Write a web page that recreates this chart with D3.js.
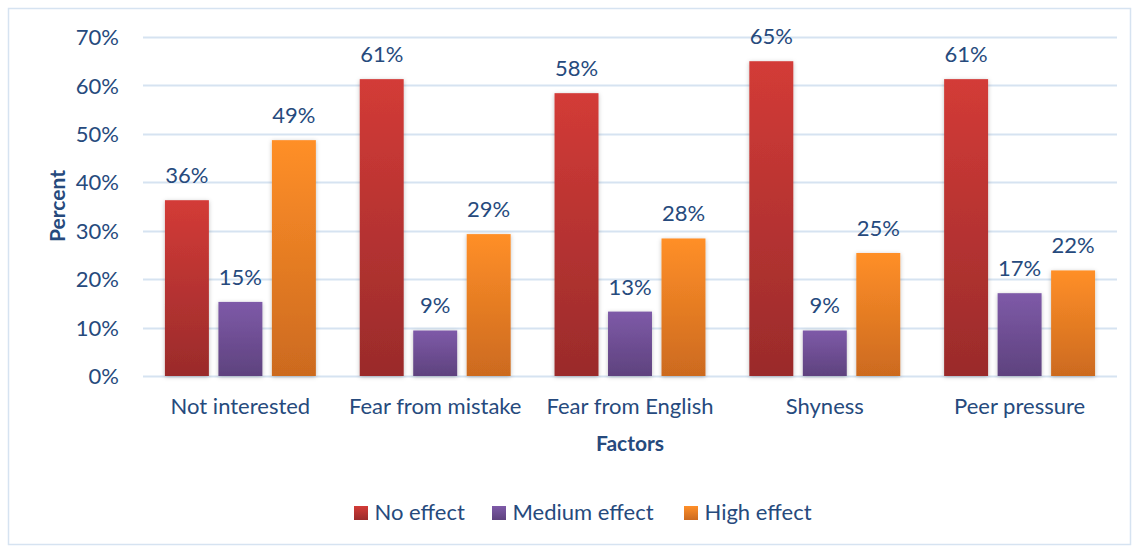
<!DOCTYPE html>
<html><head><meta charset="utf-8">
<script src="https://cdn.jsdelivr.net/npm/d3@7"></script>
<style>
html,body{margin:0;padding:0;background:#fff;}
svg{display:block;font-family:Lato, "Open Sans", sans-serif;}
</style></head>
<body>
<svg id="chart" width="1138" height="548"></svg>
<script>
const categories = ["Not interested","Fear from mistake","Fear from English","Shyness","Peer pressure"];
const seriesNames = ["No effect","Medium effect","High effect"];
const noEffect = [36.3, 61.3, 58.4, 65.0, 61.3];
const mediumEffect = [15.3, 9.4, 13.3, 9.4, 17.1];
const highEffect = [48.7, 29.3, 28.4, 25.4, 21.8];
const yTicks = [0,10,20,30,40,50,60,70];

const series = [noEffect, mediumEffect, highEffect];
const gradStops = [["#d33b37","#9a2b2b"],["#7e5aa8","#5e427e"],["#ff8f28","#cc6a1f"]];
const textColor = "#264a7d";

const svg = d3.select("#chart");
const mLeft = 143, mRight = 1117, mTop = 37, mBottom = 376;

svg.append("rect").attr("x",8.5).attr("y",8.5).attr("width",1122).attr("height",536)
  .attr("fill","#fff").attr("stroke","#d6e3f1").attr("stroke-width",1.5);

const defs = svg.append("defs");
gradStops.forEach((g,i)=>{
  const lg = defs.append("linearGradient").attr("id","g"+i).attr("x1",0).attr("y1",0).attr("x2",0).attr("y2",1);
  lg.append("stop").attr("offset","0%").attr("stop-color",g[0]);
  lg.append("stop").attr("offset","100%").attr("stop-color",g[1]);
});
const f = defs.append("filter").attr("id","sh").attr("x","-20%").attr("y","-10%").attr("width","140%").attr("height","120%");
f.append("feDropShadow").attr("dx",0).attr("dy",1).attr("stdDeviation",2).attr("flood-color","#000").attr("flood-opacity",0.25);

const y = d3.scaleLinear().domain([0,70]).range([mBottom, mTop]);
const x0 = d3.scaleBand().domain(categories).range([mLeft, mRight]).paddingInner(0).paddingOuter(0);
const x1 = d3.scaleBand().domain(d3.range(3)).range([0, x0.bandwidth()]).paddingInner(0.178).paddingOuter(0.41);

// grid
svg.append("g").selectAll("line").data(yTicks).join("line")
  .attr("x1",mLeft).attr("x2",mRight).attr("y1",d=>Math.round(y(d))+0.5).attr("y2",d=>Math.round(y(d))+0.5)
  .attr("stroke","#d6e3f1").attr("stroke-width",2);

// y axis labels
const yAxis = d3.axisLeft(y).tickValues(yTicks).tickFormat(d=>d+"%").tickSize(0).tickPadding(0);
const ya = svg.append("g").attr("transform",`translate(${mLeft-24},0)`).call(yAxis);
ya.select(".domain").remove();
ya.selectAll("text").attr("fill",textColor).attr("font-size",22).attr("font-family","Lato, sans-serif").attr("dy","0.35em");

// bars
const groups = svg.append("g").selectAll("g").data(categories).join("g")
  .attr("transform",d=>`translate(${x0(d)},0)`);
groups.each(function(cat,ci){
  const g = d3.select(this);
  series.forEach((s,si)=>{
    g.append("rect").attr("x",x1(si)).attr("width",x1.bandwidth())
      .attr("y",y(s[ci])).attr("height",y(0)-y(s[ci]))
      .attr("fill",`url(#g${si})`).attr("filter","url(#sh)");
    g.append("text").attr("x",x1(si)+x1.bandwidth()/2).attr("y",y(s[ci])-17)
      .attr("text-anchor","middle").attr("fill",textColor).attr("font-size",22)
      .text(Math.round(s[ci])+"%");
  });
});

// x axis labels
const xAxis = d3.axisBottom(x0).tickSize(0).tickPadding(0);
const xa = svg.append("g").attr("transform",`translate(0,${mBottom+38})`).call(xAxis);
xa.select(".domain").remove();
xa.selectAll("text").attr("fill",textColor).attr("font-size",22).attr("font-family","Lato, sans-serif").attr("dy",0);

// axis titles
svg.append("text").attr("x",(mLeft+mRight)/2).attr("y",451).attr("text-anchor","middle")
  .attr("fill",textColor).attr("font-size",21).attr("font-weight","bold").text("Factors");
svg.append("text").attr("transform",`translate(65,206) rotate(-90)`).attr("text-anchor","middle")
  .attr("fill",textColor).attr("font-size",21).attr("font-weight","bold").text("Percent");

// legend
const legX = [354, 492, 684];
const leg = svg.append("g");
seriesNames.forEach((n,i)=>{
  leg.append("rect").attr("x",legX[i]).attr("y",506).attr("width",14).attr("height",14).attr("fill",`url(#g${i})`);
  leg.append("text").attr("x",legX[i]+20.5).attr("y",520).attr("fill",textColor).attr("font-size",22).text(n);
});
</script>
</body></html>
